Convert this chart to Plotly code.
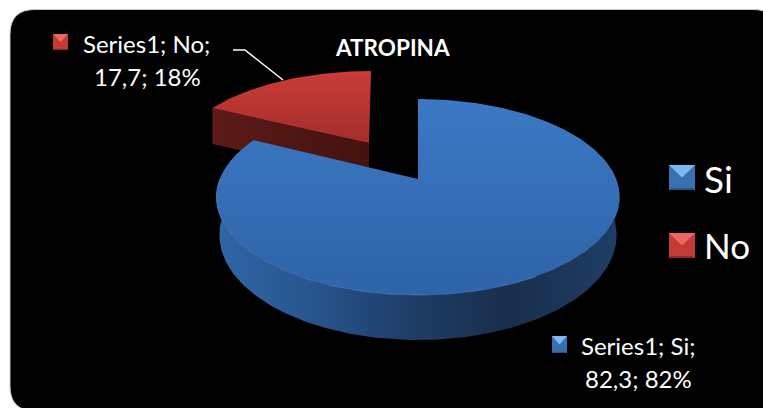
import numpy as np
import plotly.graph_objects as go

categories = ["Si", "No"]
values = [82.3, 17.7]
series_name = "Series1"
title_text = "ATROPINA"

W, H = 763, 408
FONT = "Lato"
total = sum(values)
share = [v / total for v in values]
END = 360.0 * share[0]          # "Si" sweeps clockwise from 12 o'clock


def project(theta_deg, apex, sx=1.0, sy=1.0):
    """Perspective projection of a unit-disc rim onto the page."""
    t = np.radians(theta_deg)
    u, v = np.sin(t), -np.cos(t)
    w = 1 - 0.184 * v
    return apex[0] + sx * 198.2 * u / w, apex[1] + sy * 94.7 * v / w, v


def depth(v, d0=36.7):
    return d0 / (1 - 0.184 * v)


def hue(xs, ys, scale, kind, name):
    return go.Scatter(
        x=xs, y=ys, mode="lines", fill="toself", name=name,
        line=dict(width=0), showlegend=False, hoverinfo="skip",
        fillgradient=dict(type=kind, colorscale=scale),
    )


fig = go.Figure()

# exploded "No" slice
r_apex = (369.0, 143.0)
th = np.linspace(END, 360, 60)
rx, ry, _ = project(th, r_apex, 0.953, 0.90)
rx = rx + (th - END) / (360 - END) * 2      # near edge leans slightly to the right
fig.add_trace(hue(
    [rx[0], r_apex[0], r_apex[0], rx[0], rx[0]],
    [ry[0], r_apex[1], r_apex[1] + 36, ry[0] + 36, ry[0]],
    [[0, "#5c1a18"], [1, "#431210"]], "horizontal", categories[1] + " wall"))
fig.add_trace(hue(
    np.r_[r_apex[0], rx, r_apex[0]], np.r_[r_apex[1], ry, r_apex[1]],
    [[0, "#a32e2b"], [1, "#cb3c37"]], "vertical", categories[1]))

# "Si" slice
b_apex = (418.0, 179.0)
th = np.linspace(0, END, 300)
bx, by, bv = project(th, b_apex)
front = np.linspace(75, END, 220)
fx, fy, fv = project(front, b_apex)
dy = depth(fv)
fbx = b_apex[0] + (fx - b_apex[0]) * 0.985
fig.add_trace(hue(
    np.r_[fx, fbx[::-1], fx[0]], np.r_[fy, (fy + dy)[::-1], fy[0]],
    [[0, "#2f66a6"], [0.25, "#27548c"], [0.5, "#1e3c64"], [0.72, "#192e4c"], [1, "#1f3e66"]],
    "horizontal", categories[0] + " wall"))
fig.add_trace(hue(
    np.r_[b_apex[0], bx, b_apex[0]], np.r_[b_apex[1], by, b_apex[1]],
    [[0, "#2e64a8"], [1, "#3c78c4"]], "vertical", categories[0]))
rim = np.linspace(150, 270, 100)
hx, hy, _ = project(rim, b_apex)
fig.add_trace(go.Scatter(x=hx, y=hy, mode="lines", showlegend=False, hoverinfo="skip",
                         line=dict(color="rgba(110,165,225,0.4)", width=1)))


# page furniture
def key(x0, y0, x1, y1, top, side, bottom):
    cx, cy = (x0 + x1) / 2, (y0 + y1) / 2
    i = (x1 - x0) * 0.08
    tri = [
        (f"M{x0},{y0}L{x1},{y0}L{x1},{y1}L{x0},{y1}Z", side),
        (f"M{x0},{y0}L{x1},{y0}L{cx},{cy}Z", top),
        (f"M{x0},{y1}L{x1},{y1}L{x1 - i},{y1 - i}L{x0 + i},{y1 - i}Z", bottom),
    ]
    return [dict(type="path", path=p, xref="x", yref="y", fillcolor=c,
                 line=dict(width=0), layer="above") for p, c in tri]


BLUE = ("#7db8f0", "#3a70b2", "#2a5488")
RED = ("#ee6662", "#c43a36", "#8e2a28")

r = 25
L, T, R, B = 10, 9.5, 778, 411
bg = (f"M{L + r},{T}L{R - r},{T}Q{R},{T} {R},{T + r}L{R},{B - r}Q{R},{B} {R - r},{B}"
      f"L{L + r},{B}Q{L},{B} {L},{B - r}L{L},{T + r}Q{L},{T} {L + r},{T}Z")
shapes = [dict(type="path", path=bg, xref="x", yref="y", fillcolor="#000000",
               line=dict(color="#c8c8c8", width=1), layer="below")]
shapes += key(669, 165, 695, 190, *BLUE) + key(669, 233, 695, 258, *RED)
shapes += key(552, 336, 567, 353, *BLUE) + key(53, 34, 68, 50, *RED)
shapes.append(dict(type="path", path="M233,50L245,50L283,80", xref="x", yref="y",
                   line=dict(color="#ffffff", width=1.5), layer="above"))


def fmt(v):
    return f"{v:.1f}".replace(".", ",")


def note(x, y, text, size=24, bold=False, xanchor="center"):
    return dict(x=x, y=y, xref="x", yref="y", text=f"<b>{text}</b>" if bold else text,
                showarrow=False, xanchor=xanchor, yanchor="middle",
                font=dict(family=FONT, size=size, color="#ffffff"))


annotations = [
    note(392, 47, title_text, size=22.5, bold=True),
    note(702, 178, categories[0], size=37, xanchor="left"),
    note(702, 245, categories[1], size=35, xanchor="left"),
    note(146, 43, f"{series_name}; {categories[1]};"),
    note(147, 76, f"{fmt(values[1])}; {round(share[1] * 100)}%"),
    note(638, 345, f"{series_name}; {categories[0]};"),
    note(638, 378, f"{fmt(values[0])}; {round(share[0] * 100)}%"),
]

fig.update_layout(
    width=W, height=H, margin=dict(l=0, r=0, t=0, b=0),
    paper_bgcolor="#ffffff", plot_bgcolor="#ffffff", showlegend=False,
    shapes=shapes, annotations=annotations,
    xaxis=dict(range=[0, W], visible=False, fixedrange=True),
    yaxis=dict(range=[H, 0], visible=False, fixedrange=True),
)
fig.write_html("out.html", config=dict(displayModeBar=False),
               post_script="document.body.style.margin='0';document.documentElement.style.overflow='hidden';")
